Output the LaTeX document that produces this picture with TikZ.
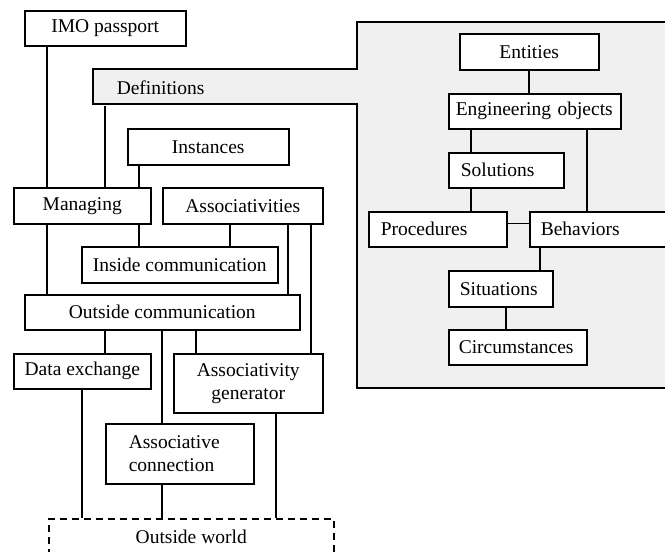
\documentclass[tikz,border=0pt]{standalone}
\usepackage{fontspec}
\setmainfont{Liberation Serif}
\definecolor{defgray}{gray}{0.94}

\begin{document}
\begin{tikzpicture}[x=1pt, y=-1pt, line width=1.5pt,
        font=\fontsize{19.5}{23}\selectfont,
        box/.style={draw, fill=white, anchor=north west, inner sep=0pt, align=center},
        lbox/.style={draw, fill=white, anchor=north west, inner ysep=0pt, align=left}]
            \useasboundingbox (0,0) rectangle (665,552);
            \clip (0,0) rectangle (665,552);

            % definitions area
            \draw[fill=defgray] (93,69) -- (357,69) -- (357,22) -- (680,22) -- (680,388)
                -- (357,388) -- (357,104) -- (93,104) -- cycle;
            \node[lbox, draw=none, fill=none, inner xsep=23pt, text width=218pt, minimum height=35pt] (defs) at (93,69) {Definitions};

            \node[box, minimum width=161pt, minimum height=35pt] (imo) at (24,10) {IMO passport};
            \node[box, minimum width=161pt, minimum height=36pt] (inst) at (127,128) {Instances};
            \node[box, minimum width=137pt, minimum height=36pt] (managing) at (13,187) {Managing};
            \node[box, minimum width=160pt, minimum height=36pt] (assoc) at (162,187) {Associativities};
            \node[box, minimum width=196pt, minimum height=36pt] (inside) at (81,246) {Inside communication};
            \node[box, minimum width=275pt, minimum height=35pt] (outside) at (24,294) {Outside communication};
            \node[box, minimum width=137pt, minimum height=35pt] (dataex) at (13,353) {Data exchange};
            \node[box, minimum width=149pt, minimum height=59pt] (assocgen) at (173,353) {Associativity\\generator};
            \node[lbox, inner xsep=23pt, text width=102pt, minimum height=60pt] (assocconn) at (105,423) {Associative\\connection};
            \node[box, dash pattern=on 7pt off 5pt, minimum width=285pt, minimum height=36pt] (world) at (48,518) {Outside world};

            \node[box, minimum width=139pt, minimum height=36pt] (entities) at (459,33) {Entities};
            \node[lbox, inner xsep=7pt, text width=158pt, minimum height=35pt] (engobj) at (448,93) {Engineering objects};
            \node[lbox, inner xsep=12pt, text width=91pt, minimum height=35pt] (solutions) at (448,152) {Solutions};
            \node[lbox, inner xsep=12pt, text width=114pt, minimum height=35pt] (procedures) at (368,211) {Procedures};
            \node[lbox, inner xsep=11pt, text width=128pt, minimum height=35pt] (behaviors) at (529,211) {Behaviors};
            \node[lbox, inner xsep=11pt, text width=82pt, minimum height=36pt] (situations) at (448,270) {Situations};
            \node[lbox, inner xsep=10pt, text width=118pt, minimum height=35pt] (circum) at (448,329) {Circumstances};

            \draw ([xshift=23pt]imo.south west) -- ([xshift=34pt]managing.north west);
            \draw ([xshift=12pt]defs.south west) -- ([xshift=92pt]managing.north west);
            \draw ([xshift=12pt]inst.south west) -- ([xshift=126pt]managing.north west);

            \draw ([xshift=126pt]managing.south west) -- ([xshift=58pt]inside.north west);
            \draw ([xshift=34pt]managing.south west) -- ([xshift=23pt]outside.north west);
            \draw ([xshift=68pt]assoc.south west) -- ([xshift=149pt]inside.north west);
            \draw ([xshift=126pt]assoc.south west) -- ([xshift=264pt]outside.north west);
            \draw ([xshift=149pt]assoc.south west) -- ([xshift=138pt]assocgen.north west);

            \draw ([xshift=81pt]outside.south west) -- ([xshift=92pt]dataex.north west);
            \draw ([xshift=138pt]outside.south west) -- ([xshift=57pt]assocconn.north west);
            \draw ([xshift=172pt]outside.south west) -- ([xshift=23pt]assocgen.north west);

            \draw ([xshift=69pt]dataex.south west) -- ([xshift=34pt]world.north west);
            \draw ([xshift=57pt]assocconn.south west) -- ([xshift=114pt]world.north west);
            \draw ([xshift=103pt]assocgen.south west) -- ([xshift=228pt]world.north west);

            \draw ([xshift=70pt]entities.south west) -- ([xshift=81pt]engobj.north west);
            \draw ([xshift=23pt]engobj.south west) -- ([xshift=23pt]solutions.north west);
            \draw ([xshift=139pt]engobj.south west) -- ([xshift=58pt]behaviors.north west);
            \draw ([xshift=23pt]solutions.south west) -- ([xshift=103pt]procedures.north west);
            \draw ([yshift=6pt]procedures.east) -- ([yshift=6pt]behaviors.west);
            \draw ([xshift=11pt]behaviors.south west) -- ([xshift=92pt]situations.north west);
            \draw ([xshift=58pt]situations.south west) -- ([xshift=58pt]circum.north west);
        \end{tikzpicture}
\end{document}
